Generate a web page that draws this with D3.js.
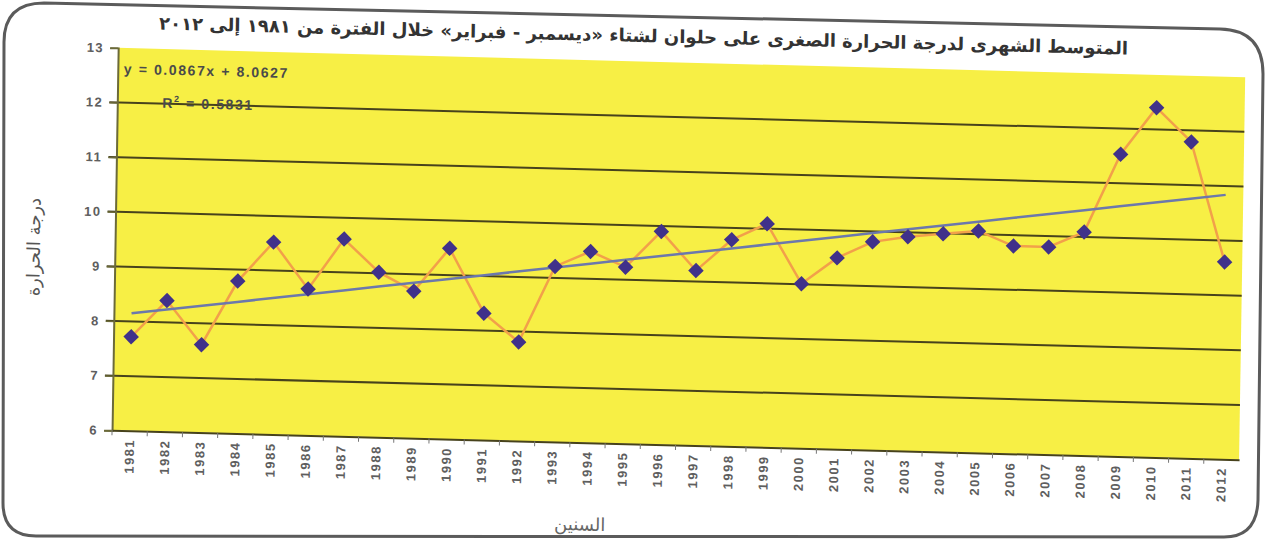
<!DOCTYPE html>
<html>
<head>
<meta charset="utf-8">
<script src="https://cdn.jsdelivr.net/npm/d3@7"></script>
<style>
  body { margin: 0; background: #fff; }
  svg { display: block; }
</style>
</head>
<body>
<script>
// winter (Dec - Feb) mean minimum temperature at Helwan, 1981-2012
var years = ['1981','1982','1983','1984','1985','1986','1987','1988','1989','1990',
             '1991','1992','1993','1994','1995','1996','1997','1998','1999','2000',
             '2001','2002','2003','2004','2005','2006','2007','2008','2009','2010',
             '2011','2012'];
var tmin = [7.72, 8.40, 7.61, 8.79, 9.52, 8.68, 9.61, 9.02, 8.69, 9.49,
            8.32, 7.81, 9.21, 9.50, 9.23, 9.90, 9.20, 9.78, 10.09, 9.01,
            9.50, 9.81, 9.92, 9.99, 10.06, 9.80, 9.80, 10.09, 11.53, 12.40,
            11.79, 9.61];
var yTicks = [6, 7, 8, 9, 10, 11, 12, 13];
var gridTicks = [7, 8, 9, 10, 11, 12];
var trendSlope = 0.0867;
var trendIntercept = 8.0627;
var rSquared = '0.5831';

var title = 'المتوسط الشهرى لدرجة الحرارة الصغرى على حلوان لشتاء «ديسمبر - فبراير» خلال الفترة من ١٩٨١ إلى ٢٠١٢';
var yTitle = 'درجة الحرارة';
var xTitle = 'السنين';

var W = 1273, H = 542;
var pL = 115, pR = 1242, pT = 61.5, pB = 444;

var svg = d3.select('body').append('svg')
  .attr('width', W)
  .attr('height', H);

// rounded frame of the scanned figure
svg.append('path')
  .attr('d', 'M4,42 Q4,3 44,3 L1220,29 Q1263,30 1263,74 L1258,500 Q1257,537 1224,537 L36,536 Q3,536 3,503 Z')
  .attr('fill', 'none')
  .attr('stroke', '#5b5b5b')
  .attr('stroke-width', 3);

// the scan is a little tilted, keep that
var g = svg.append('g')
  .attr('transform', 'matrix(1,0.026,-0.016,1,4.16,-16.64)');

var x = d3.scaleBand().domain(years).range([pL, pR]);
var y = d3.scaleLinear().domain([6, 13]).range([pB, pT]);
var cx = function(d) { return x(d) + x.bandwidth() / 2; };

g.append('rect')
  .attr('x', pL)
  .attr('y', y(13))
  .attr('width', pR - pL)
  .attr('height', y(6) - y(13))
  .attr('fill', '#f7ef45');

g.selectAll('line.grid')
  .data(gridTicks)
  .enter()
  .append('line')
    .attr('class', 'grid')
    .attr('x1', pL - 8)
    .attr('x2', pR)
    .attr('y1', function(d) { return y(d); })
    .attr('y2', function(d) { return y(d); })
    .attr('stroke', '#47421c')
    .attr('stroke-width', 2);

// y axis
var yAxis = g.append('g')
  .attr('transform', 'translate(' + pL + ',0)')
  .call(d3.axisLeft(y).tickValues(yTicks).tickFormat(d3.format('d')).tickSize(8).tickPadding(6));
yAxis.select('.domain').attr('stroke', '#6b6a3a').attr('stroke-width', 2);
yAxis.selectAll('line').attr('stroke', '#6b6a3a').attr('stroke-width', 1.5);
yAxis.selectAll('text')
  .attr('font-family', 'Liberation Sans, Arial, sans-serif')
  .attr('font-weight', 'bold')
  .attr('font-size', 13)
  .attr('letter-spacing', 1.5)
  .attr('fill', '#5e5e5e');

// x axis, ticks between the categories
var xAxis = g.append('g')
  .attr('transform', 'translate(0,' + pB + ')')
  .call(d3.axisBottom(x).tickSize(0).tickPadding(0));
xAxis.select('.domain').attr('stroke', '#47421c').attr('stroke-width', 2);
xAxis.selectAll('.tick').append('line')
  .attr('x1', -x.bandwidth() / 2)
  .attr('x2', -x.bandwidth() / 2)
  .attr('y2', 5)
  .attr('stroke', '#777');
xAxis.selectAll('text')
  .attr('transform', 'rotate(-90)')
  .attr('text-anchor', 'end')
  .attr('dy', '0.35em')
  .attr('x', -8)
  .attr('y', 0)
  .attr('font-family', 'Liberation Sans, Arial, sans-serif')
  .attr('font-weight', 'bold')
  .attr('font-size', 13)
  .attr('letter-spacing', 1.5)
  .attr('fill', '#5e5e5e');

// series line and diamonds
var line = d3.line()
  .x(function(d, i) { return cx(years[i]); })
  .y(function(d) { return y(d); });

g.append('path')
  .datum(tmin)
  .attr('d', line)
  .attr('fill', 'none')
  .attr('stroke', '#f2a04a')
  .attr('stroke-width', 2.5);

// linear trend from the equation on the chart
var trend = years.map(function(yr, i) { return trendIntercept + trendSlope * (i + 1); });
g.append('path')
  .datum(trend)
  .attr('d', line)
  .attr('fill', 'none')
  .attr('stroke', '#6c78ac')
  .attr('stroke-width', 2.5);

g.selectAll('path.pt')
  .data(tmin)
  .enter()
  .append('path')
    .attr('class', 'pt')
    .attr('d', d3.symbol().type(d3.symbolSquare).size(120))
    .attr('transform', function(d, i) {
      return 'translate(' + cx(years[i]) + ',' + y(d) + ') rotate(45)';
    })
    .attr('fill', '#40318a');

// equation labels
g.append('text')
  .attr('x', pL + 6)
  .attr('y', y(12.53))
  .attr('font-family', 'Liberation Sans, Arial, sans-serif')
  .attr('font-weight', 'bold')
  .attr('font-size', 14)
  .attr('letter-spacing', 1.6)
  .attr('fill', '#4a4a4a')
  .text('y = ' + trendSlope + 'x + ' + trendIntercept);

var r2 = g.append('text')
  .attr('x', pL + 45)
  .attr('y', y(12.0) + 4)
  .attr('font-family', 'Liberation Sans, Arial, sans-serif')
  .attr('font-weight', 'bold')
  .attr('font-size', 14)
  .attr('letter-spacing', 1.6)
  .attr('fill', '#4a4a4a');
r2.append('tspan').text('R');
r2.append('tspan').attr('dy', -6).attr('font-size', 9).text('2');
r2.append('tspan').attr('dy', 6).text(' = ' + rSquared);

// titles
g.append('text')
  .attr('x', 640)
  .attr('y', 42)
  .attr('text-anchor', 'middle')
  .attr('direction', 'rtl')
  .attr('font-family', 'DejaVu Sans, sans-serif')
  .attr('font-weight', 'bold')
  .attr('font-size', 18)
  .attr('fill', '#333')
  .text(title);

g.append('text')
  .attr('transform', 'translate(40,' + ((pT + pB) / 2 + 10) + ') rotate(-90)')
  .attr('text-anchor', 'middle')
  .attr('direction', 'rtl')
  .attr('font-family', 'DejaVu Sans, sans-serif')
  .attr('font-size', 18)
  .attr('fill', '#555')
  .text(yTitle);

g.append('text')
  .attr('x', 584)
  .attr('y', 532)
  .attr('text-anchor', 'middle')
  .attr('direction', 'rtl')
  .attr('font-family', 'DejaVu Sans, sans-serif')
  .attr('font-size', 18)
  .attr('fill', '#666')
  .text(xTitle);
</script>
</body>
</html>
